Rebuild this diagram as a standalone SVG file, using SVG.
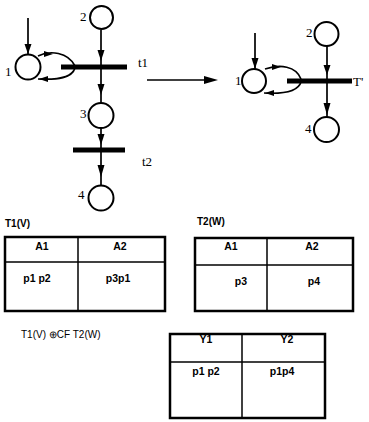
<svg xmlns="http://www.w3.org/2000/svg" width="369" height="422" viewBox="0 0 369 422">
<style>
.pl{fill:#fff;stroke:#000;stroke-width:2}
.tr{fill:#000}
.ln{fill:none;stroke:#000;stroke-width:1.7}
.ah{fill:#000}
.lbl{font-family:"Liberation Serif",serif;font-size:13px;fill:#000}
.tt{font-family:"Liberation Sans",sans-serif;font-size:10px;font-weight:bold;fill:#000}
.tc{font-family:"Liberation Sans",sans-serif;font-size:10.5px;font-weight:bold;fill:#000;text-anchor:middle}
.outer{fill:#fff;stroke:#000;stroke-width:2.5}
.inner{stroke:#000;stroke-width:1.5}
</style>
<rect width="369" height="422" fill="#fff"/>
<g id="connectors">
  <line class="ln" x1="28" y1="18" x2="28" y2="54"/>
  <polygon class="ah" points="24.5,44 31.5,44 28,54"/>
  <line class="ln" x1="101" y1="30" x2="101" y2="150"/>
  <polygon class="ah" points="97.5,50 104.5,50 101,61"/>
  <polygon class="ah" points="97.5,84 104.5,84 101,95"/>
  <polygon class="ah" points="97.5,134 104.5,134 101,145"/>
  <line class="ln" x1="101" y1="150" x2="101" y2="185"/>
  <polygon class="ah" points="97.5,165 104.5,165 101,177"/>
  <path class="ln" d="M38,56 C50,50 68,52 75,66"/>
  <polygon class="ah" points="44,51 53,54 44,57"/>
  <path class="ln" d="M75,68 C72,78 58,80 38,79"/>
  <polygon class="ah" points="48,76 39,79 48,82"/>
  <line class="ln" x1="147" y1="80" x2="210" y2="80"/>
  <polygon class="ah" points="204,76 218,80 204,84"/>
  <line class="ln" x1="255" y1="33" x2="255" y2="69"/>
  <polygon class="ah" points="251.5,58 258.5,58 255,69"/>
  <line class="ln" x1="327" y1="46" x2="327" y2="117"/>
  <polygon class="ah" points="323.5,65 330.5,65 327,75"/>
  <polygon class="ah" points="323.5,103 330.5,103 327,115"/>
  <path class="ln" d="M265,69 C280,64 296,66 301,79"/>
  <polygon class="ah" points="272,64 281,67 272,70"/>
  <path class="ln" d="M301,82 C298,92 282,94 264,93"/>
  <polygon class="ah" points="274,90 265,93 274,96"/>
</g>
<g id="p1"><circle class="pl" cx="28" cy="67" r="12.5"/><text class="lbl" x="5" y="76">1</text></g>
<g id="p2"><circle class="pl" cx="101.5" cy="17.5" r="11.5"/><text class="lbl" x="80" y="21">2</text></g>
<g id="t1"><rect class="tr" x="61" y="64.5" width="66" height="5"/><text class="lbl" x="138" y="67">t1</text></g>
<g id="p3"><circle class="pl" cx="101" cy="115.5" r="12.5"/><text class="lbl" x="80" y="118">3</text></g>
<g id="t2"><rect class="tr" x="73" y="147.5" width="52" height="5"/><text class="lbl" x="142" y="166">t2</text></g>
<g id="p4"><circle class="pl" cx="101" cy="198" r="12.5"/><text class="lbl" x="78" y="199">4</text></g>
<g id="rp1"><circle class="pl" cx="254" cy="81" r="12"/><text class="lbl" x="235" y="85">1</text></g>
<g id="rp2"><circle class="pl" cx="326.5" cy="34" r="12"/><text class="lbl" x="306" y="37">2</text></g>
<g id="rT"><rect class="tr" x="287" y="78.5" width="65" height="5"/><text class="lbl" x="353" y="86">T'</text></g>
<g id="rp4"><circle class="pl" cx="326.5" cy="129.5" r="12.5"/><text class="lbl" x="305" y="133">4</text></g>
<g id="table1">
  <text class="tt" x="5" y="227">T1(V)</text>
  <rect class="outer" x="5" y="237" width="160" height="74"/>
  <line class="inner" x1="5" y1="262" x2="165" y2="262"/>
  <line class="inner" x1="78" y1="237" x2="78" y2="311"/>
  <text class="tc" x="42" y="250">A1</text>
  <text class="tc" x="120" y="250">A2</text>
  <text class="tc" x="37" y="282">p1 p2</text>
  <text class="tc" x="118" y="282">p3p1</text>
</g>
<g id="table2">
  <text class="tt" x="197" y="225">T2(W)</text>
  <rect class="outer" x="195" y="238" width="158" height="73"/>
  <line class="inner" x1="195" y1="265" x2="353" y2="265"/>
  <line class="inner" x1="267" y1="238" x2="267" y2="311"/>
  <text class="tc" x="231" y="250">A1</text>
  <text class="tc" x="312" y="250">A2</text>
  <text class="tc" x="241" y="285">p3</text>
  <text class="tc" x="314" y="285">p4</text>
</g>
<g id="table3">
  <text class="tt" x="21" y="338" style="font-weight:normal">T1(V) ⊕CF T2(W)</text>
  <rect class="outer" x="170" y="334" width="155" height="84"/>
  <line class="inner" x1="170" y1="362" x2="325" y2="362"/>
  <line class="inner" x1="242" y1="334" x2="242" y2="418"/>
  <text class="tc" x="206" y="343">Y1</text>
  <text class="tc" x="287" y="343">Y2</text>
  <text class="tc" x="206" y="375">p1 p2</text>
  <text class="tc" x="282" y="375">p1p4</text>
</g>
</svg>
